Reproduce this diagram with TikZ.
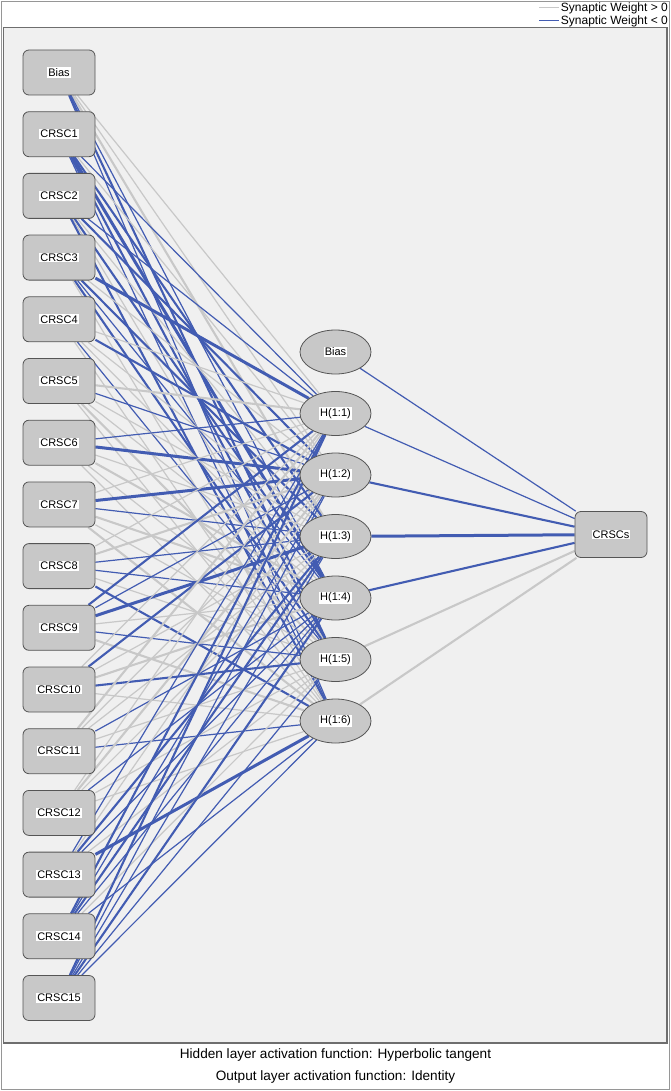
\documentclass[tikz,border=0pt]{standalone}
\usepackage{fontspec}
\setmainfont{Liberation Sans}
\usetikzlibrary{shapes.geometric,backgrounds}
\definecolor{posw}{RGB}{200,200,200}
\definecolor{negw}{RGB}{66,92,178}
\definecolor{nodefill}{RGB}{200,200,200}
\definecolor{nodeline}{RGB}{85,85,85}
\definecolor{panelfill}{RGB}{240,240,240}
\definecolor{panelline}{RGB}{110,110,110}
\definecolor{framegray}{RGB}{150,150,150}
\newcommand{\nlab}[1]{\setlength{\fboxsep}{1pt}\colorbox{white}{#1}}
\begin{document}
\begin{tikzpicture}[x=1pt,y=-1pt,
  inbox/.style={rectangle,rounded corners=6pt,draw=nodeline,fill=nodefill,line width=0.8pt,
    minimum width=72pt,minimum height=45pt,inner sep=0pt,font=\fontsize{11}{12}\selectfont},
  hidnode/.style={ellipse,draw=nodeline,fill=nodefill,line width=0.8pt,
    minimum width=71pt,minimum height=44pt,inner sep=0pt,font=\fontsize{11}{12}\selectfont},
  legtxt/.style={inner sep=0pt,font=\fontsize{12}{13}\selectfont},
  foot/.style={inner sep=0pt,font=\fontsize{13.6}{15}\selectfont}]
  \useasboundingbox (0,0) rectangle (671,1091);
  \foreach \name/\txt [count=\i from 0] in {bias/Bias,c1/CRSC1,c2/CRSC2,c3/CRSC3,c4/CRSC4,c5/CRSC5,
      c6/CRSC6,c7/CRSC7,c8/CRSC8,c9/CRSC9,c10/CRSC10,c11/CRSC11,c12/CRSC12,c13/CRSC13,c14/CRSC14,c15/CRSC15}
    \node[inbox] (\name) at (59,72.5+61.7*\i) {\nlab{\txt}};
  \foreach \name/\txt [count=\i from 0] in {hb/Bias,h1/H(1:1),h2/H(1:2),h3/H(1:3),h4/H(1:4),h5/H(1:5),h6/H(1:6)}
    \node[hidnode] (\name) at (335.5,352+61.5*\i) {\nlab{\txt}};
  \node[inbox,minimum height=46pt] (out) [right of=h3,node distance=275.5pt,yshift=2pt] {\nlab{CRSCs}};
  \node[legtxt,anchor=east] (legpos) at (668,8) {Synaptic Weight > 0};
  \node[legtxt,anchor=east] (legneg) at (668,21) {Synaptic Weight < 0};
  \node[foot] (hidact) at (335.5,1055) {Hidden layer activation function: Hyperbolic tangent};
  \node[foot] (outact) at (335.5,1077) {Output layer activation function: Identity};
  \begin{scope}[on background layer]
    \draw[framegray,line width=1.5pt,fill=white] (1.5,1.5) rectangle (669.5,1089.5);
    \draw[panelline,line width=1.5pt,fill=panelfill] (3.5,27.5) rectangle (667,1043);
    \draw[posw,line width=1pt] ([xshift=-2pt]legpos.west) -- ++(-20,0);
    \draw[negw,line width=1pt] ([xshift=-2pt]legneg.west) -- ++(-20,0);
    % sign gives the colour, size gives the width
    \foreach \src/\ws in {bias/{1,1,2,-1,-2,-1},c1/{-1,1,-2,-3,-2,-1},c2/{-1,-2,1,-2,1,-2},
        c3/{-3,1,-2,-1,-2,1},c4/{1,-2,1,1,-1,1},c5/{2,-1,1,1,2,1},c6/{-1,-3,1,2,1,1},
        c7/{1,-3,-1,2,1,2},c8/{1,2,-1,-1,1,-2},c9/{-2,-1,-3,1,-1,2},c10/{1,-2,1,2,-2,1},
        c11/{2,1,1,-1,1,-1},c12/{1,2,1,-1,1,1},c13/{-1,1,-2,-1,1,-3},c14/{-2,-1,-2,-1,1,-1},
        c15/{-2,-1,-1,-2,-1,-1}}
      \foreach \w [count=\j] in \ws {
        \ifnum\w<0 \def\wcol{negw}\else\def\wcol{posw}\fi
        \pgfmathsetmacro\wlw{0.3+0.9*abs(\w)}
        \draw[\wcol,line width=\wlw pt] (\src) -- (h\j);
      }
    \foreach \h/\w in {hb/-1,h1/-1,h2/-2,h3/-3,h4/-2,h5/2,h6/2} {
      \ifnum\w<0 \def\wcol{negw}\else\def\wcol{posw}\fi
      \pgfmathsetmacro\wlw{0.3+0.9*abs(\w)}
      \draw[\wcol,line width=\wlw pt] (\h) -- (out);
    }
  \end{scope}
\end{tikzpicture}
\end{document}
